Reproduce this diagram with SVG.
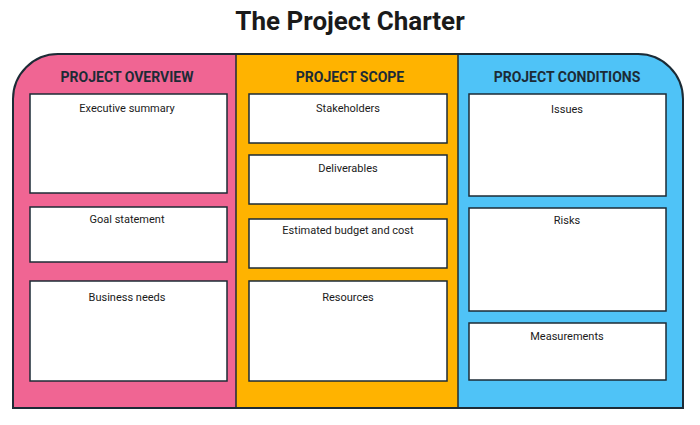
<svg xmlns="http://www.w3.org/2000/svg" width="700" height="425" viewBox="0 0 700 425">
<style>
.t{font-family:Roboto,"Liberation Sans",sans-serif;fill:#1a1a1a;text-anchor:middle}
.h{font-size:14px;font-weight:bold;fill:#1c2b36}
.l{font-size:11px}
.b{fill:#fff;stroke:#1c2b36;stroke-width:1.5}
.d{stroke:#1c2b36;stroke-width:1.5}
</style>
<defs><clipPath id="c"><path d="M58,54 H638 A45,45 0 0 1 683,99 V408 H13 V99 A45,45 0 0 1 58,54 Z"/></clipPath></defs>
<text class="t" x="350" y="30" font-size="26" font-weight="bold" fill="#000">The Project Charter</text>
<g clip-path="url(#c)">
<rect x="0" y="40" width="236" height="380" fill="#F06593"/>
<rect x="236" y="40" width="222" height="380" fill="#FFB300"/>
<rect x="458" y="40" width="240" height="380" fill="#4FC3F7"/>
</g>
<path d="M58,54 H638 A45,45 0 0 1 683,99 V408 H13 V99 A45,45 0 0 1 58,54 Z" fill="none" stroke="#1c2b36" stroke-width="2"/>
<g id="dividers"><line class="d" x1="236" y1="54" x2="236" y2="408"/><line class="d" x1="458" y1="54" x2="458" y2="408"/></g>
<g id="overview">
<text class="t h" x="127" y="82">PROJECT OVERVIEW</text>
<g id="exec"><rect class="b" x="30" y="94" width="197" height="99"/><text class="t l" x="127" y="112">Executive summary</text></g>
<g id="goal"><rect class="b" x="30" y="207" width="197" height="55"/><text class="t l" x="127" y="223">Goal statement</text></g>
<g id="needs"><rect class="b" x="30" y="281" width="197" height="100"/><text class="t l" x="127" y="301">Business needs</text></g>
</g>
<g id="scope">
<text class="t h" x="350" y="82">PROJECT SCOPE</text>
<g id="stake"><rect class="b" x="249" y="94" width="198" height="49"/><text class="t l" x="348" y="112">Stakeholders</text></g>
<g id="deliv"><rect class="b" x="249" y="155" width="198" height="49"/><text class="t l" x="348" y="172">Deliverables</text></g>
<g id="budget"><rect class="b" x="249" y="219" width="198" height="49"/><text class="t l" x="348" y="234">Estimated budget and cost</text></g>
<g id="res"><rect class="b" x="249" y="281" width="198" height="100"/><text class="t l" x="348" y="301">Resources</text></g>
</g>
<g id="conditions">
<text class="t h" x="567" y="82">PROJECT CONDITIONS</text>
<g id="issues"><rect class="b" x="469" y="94" width="197" height="102"/><text class="t l" x="567" y="113">Issues</text></g>
<g id="risks"><rect class="b" x="469" y="208" width="197" height="103"/><text class="t l" x="567" y="224">Risks</text></g>
<g id="meas"><rect class="b" x="469" y="323" width="197" height="57"/><text class="t l" x="567" y="340">Measurements</text></g>
</g>
</svg>
